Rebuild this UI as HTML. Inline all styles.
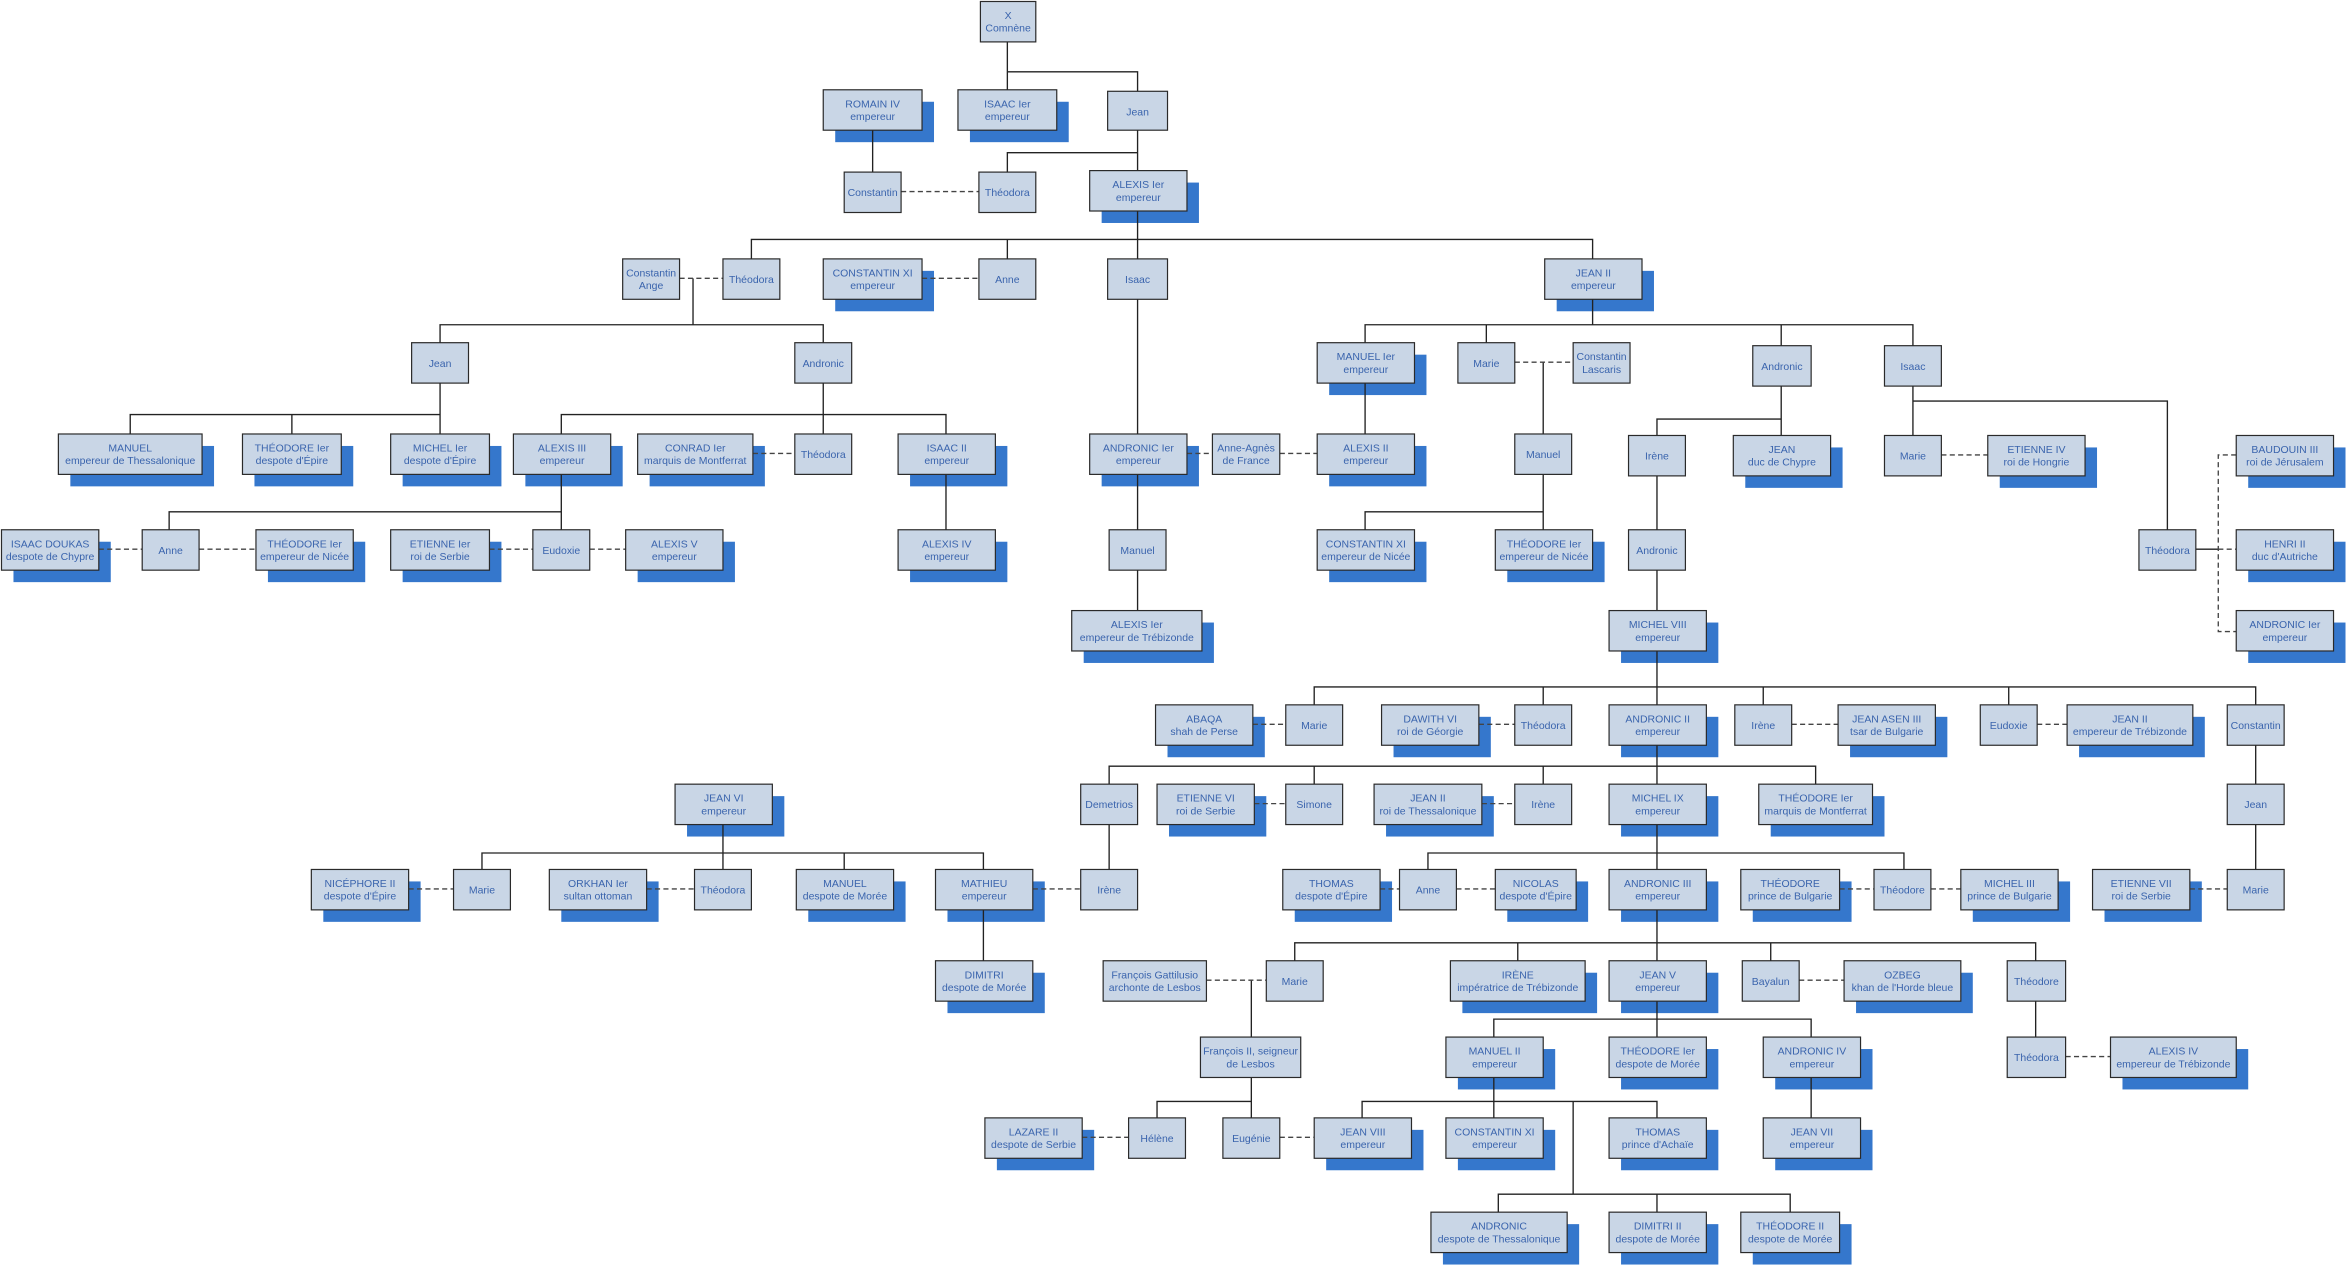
<!DOCTYPE html>
<html><head><meta charset="utf-8">
<style>
html,body{margin:0;padding:0;background:#fff;width:2347px;height:1281px;overflow:hidden}
svg{display:block}
.s rect{fill:#3577cc}
.b rect{fill:#c9d6e6;stroke:#2a2a2a;stroke-width:0.8}
.l{fill:none;stroke:#222;stroke-width:0.9}
.d{fill:none;stroke:#444;stroke-width:0.9;stroke-dasharray:3.4 2.2}
text{font-family:"Liberation Sans",Arial,sans-serif;font-size:7px;fill:#3a64ad;text-anchor:middle}
</style></head><body>
<svg width="2347" height="1281" viewBox="0 0 1568 856" preserveAspectRatio="none" xmlns="http://www.w3.org/2000/svg">
<g class="s">
<rect x="558" y="68" width="66" height="27"/><rect x="648" y="68" width="66" height="27"/><rect x="736" y="122" width="65" height="27"/>
<rect x="558" y="181" width="66" height="27"/><rect x="1040" y="181" width="65" height="27"/><rect x="888" y="237" width="65" height="27"/>
<rect x="47" y="298" width="96" height="27"/><rect x="170" y="298" width="66" height="27"/><rect x="269" y="298" width="66" height="27"/><rect x="351" y="298" width="65" height="27"/><rect x="434" y="298" width="77" height="27"/><rect x="608" y="298" width="65" height="27"/><rect x="736" y="298" width="65" height="27"/><rect x="888" y="298" width="65" height="27"/><rect x="1166" y="299" width="65" height="27"/><rect x="1336" y="299" width="65" height="27"/><rect x="1502" y="299" width="65" height="27"/>
<rect x="9" y="362" width="65" height="27"/><rect x="179" y="362" width="65" height="27"/><rect x="269" y="362" width="66" height="27"/><rect x="426" y="362" width="65" height="27"/><rect x="608" y="362" width="65" height="27"/><rect x="888" y="362" width="65" height="27"/><rect x="1007" y="362" width="65" height="27"/><rect x="1502" y="362" width="65" height="27"/>
<rect x="724" y="416" width="87" height="27"/><rect x="1083" y="416" width="65" height="27"/><rect x="1502" y="416" width="65" height="27"/>
<rect x="780" y="479" width="65" height="27"/><rect x="931" y="479" width="65" height="27"/><rect x="1083" y="479" width="65" height="27"/><rect x="1236" y="479" width="65" height="27"/><rect x="1389" y="479" width="84" height="27"/>
<rect x="459" y="532" width="65" height="27"/><rect x="781" y="532" width="65" height="27"/><rect x="926" y="532" width="72" height="27"/><rect x="1083" y="532" width="65" height="27"/><rect x="1183" y="532" width="76" height="27"/>
<rect x="216" y="589" width="65" height="27"/><rect x="375" y="589" width="65" height="27"/><rect x="540" y="589" width="65" height="27"/><rect x="633" y="589" width="65" height="27"/><rect x="865" y="589" width="65" height="27"/><rect x="1007" y="589" width="54" height="27"/><rect x="1083" y="589" width="65" height="27"/><rect x="1171" y="589" width="66" height="27"/><rect x="1318" y="589" width="65" height="27"/><rect x="1406" y="589" width="65" height="27"/>
<rect x="633" y="650" width="65" height="27"/><rect x="977" y="650" width="90" height="27"/><rect x="1083" y="650" width="65" height="27"/><rect x="1240" y="650" width="78" height="27"/>
<rect x="974" y="701" width="65" height="27"/><rect x="1083" y="701" width="65" height="27"/><rect x="1186" y="701" width="65" height="27"/><rect x="1418" y="701" width="84" height="27"/>
<rect x="666" y="755" width="65" height="27"/><rect x="886" y="755" width="65" height="27"/><rect x="974" y="755" width="65" height="27"/><rect x="1083" y="755" width="65" height="27"/><rect x="1186" y="755" width="65" height="27"/>
<rect x="964" y="818" width="91" height="27"/><rect x="1083" y="818" width="65" height="27"/><rect x="1171" y="818" width="66" height="27"/>
</g>
<path class="l" d="M673 28V48H760V61M673 48V60M583 87V115M760 87V114M673 115V102H760M760 141V160M502 173V160H1064V173M673 160V173M760 160V173M463 186V217M294 229V217H550V229M760 199V290M1064 199V217M912 229V217H1278V231M993 217V229M1190 217V231M1031 242V290M294 255V277M87 290V277H294V290M195 277V290M550 255V290M375 290V277H632V290M912 255V290M1190 257V280M1107 291V280H1190V291M1278 257V268H1448V354M1278 268V291M375 317V342M113 354V342H375V354M632 317V354M760 317V354M1031 317V342M912 354V342H1031V354M1107 317V354M760 381V408M1107 381V408M1467 367H1482M1107 435V459M878 471V459H1507V471M1031 459V471M1107 459V471M1178 459V471M1342 459V471M1107 498V512M741 524V512H1213V524M878 512V524M1031 512V524M1107 512V524M1507 498V524M483 551V570M322 581V570H657V581M483 570V581M564 570V581M741 551V581M1107 551V570M954 581V570H1272V581M1107 570V581M1507 551V581M657 608V642M1107 608V630M865 642V630H1360V642M1014 630V642M1107 630V642M1183 630V642M836 655V693M1107 669V681M998 693V681H1210V693M1107 681V693M1360 669V693M836 720V736M773 747V736H836V747M998 720V736M910 747V736H1107V747M998 736V747M1051 736V798M1001 810V798H1196V810M1107 798V810M1210 720V747"/>
<path class="d" d="M602 128H654M454 186H483M616 186H654M1012 242H1051M503 303H531M793 303H810M855 303H880M1297 304H1328M66 367H95M133 367H171M327 367H356M394 367H418M837 484H859M988 484H1012M1197 484H1228M1361 484H1381M838 537H859M990 537H1012M273 594H303M432 594H464M690 594H722M922 594H935M973 594H999M1229 594H1252M1290 594H1310M1463 594H1488M806 655H846M1202 655H1232M1380 706H1410M723 760H754M855 760H878M1494 304H1482V422H1494M1482 367H1494"/>
<g class="b">
<rect x="655" y="1" width="37" height="27"/><rect x="550" y="60" width="66" height="27"/><rect x="640" y="60" width="66" height="27"/><rect x="740" y="61" width="40" height="26"/>
<rect x="564" y="115" width="38" height="27"/><rect x="654" y="115" width="38" height="27"/><rect x="728" y="114" width="65" height="27"/>
<rect x="416" y="173" width="38" height="27"/><rect x="483" y="173" width="38" height="27"/><rect x="550" y="173" width="66" height="27"/><rect x="654" y="173" width="38" height="27"/><rect x="740" y="173" width="40" height="27"/><rect x="1032" y="173" width="65" height="27"/>
<rect x="275" y="229" width="38" height="27"/><rect x="531" y="229" width="38" height="27"/><rect x="880" y="229" width="65" height="27"/><rect x="974" y="229" width="38" height="27"/><rect x="1051" y="229" width="38" height="27"/><rect x="1171" y="231" width="39" height="27"/><rect x="1259" y="231" width="38" height="27"/>
<rect x="39" y="290" width="96" height="27"/><rect x="162" y="290" width="66" height="27"/><rect x="261" y="290" width="66" height="27"/><rect x="343" y="290" width="65" height="27"/><rect x="426" y="290" width="77" height="27"/><rect x="531" y="290" width="38" height="27"/><rect x="600" y="290" width="65" height="27"/><rect x="728" y="290" width="65" height="27"/><rect x="810" y="290" width="45" height="27"/><rect x="880" y="290" width="65" height="27"/><rect x="1012" y="290" width="38" height="27"/><rect x="1088" y="291" width="38" height="27"/><rect x="1158" y="291" width="65" height="27"/><rect x="1259" y="291" width="38" height="27"/><rect x="1328" y="291" width="65" height="27"/><rect x="1494" y="291" width="65" height="27"/>
<rect x="1" y="354" width="65" height="27"/><rect x="95" y="354" width="38" height="27"/><rect x="171" y="354" width="65" height="27"/><rect x="261" y="354" width="66" height="27"/><rect x="356" y="354" width="38" height="27"/><rect x="418" y="354" width="65" height="27"/><rect x="600" y="354" width="65" height="27"/><rect x="741" y="354" width="38" height="27"/><rect x="880" y="354" width="65" height="27"/><rect x="999" y="354" width="65" height="27"/><rect x="1088" y="354" width="38" height="27"/><rect x="1429" y="354" width="38" height="27"/><rect x="1494" y="354" width="65" height="27"/>
<rect x="716" y="408" width="87" height="27"/><rect x="1075" y="408" width="65" height="27"/><rect x="1494" y="408" width="65" height="27"/>
<rect x="772" y="471" width="65" height="27"/><rect x="859" y="471" width="38" height="27"/><rect x="923" y="471" width="65" height="27"/><rect x="1012" y="471" width="38" height="27"/><rect x="1075" y="471" width="65" height="27"/><rect x="1159" y="471" width="38" height="27"/><rect x="1228" y="471" width="65" height="27"/><rect x="1323" y="471" width="38" height="27"/><rect x="1381" y="471" width="84" height="27"/><rect x="1488" y="471" width="38" height="27"/>
<rect x="451" y="524" width="65" height="27"/><rect x="722" y="524" width="38" height="27"/><rect x="773" y="524" width="65" height="27"/><rect x="859" y="524" width="38" height="27"/><rect x="918" y="524" width="72" height="27"/><rect x="1012" y="524" width="38" height="27"/><rect x="1075" y="524" width="65" height="27"/><rect x="1175" y="524" width="76" height="27"/><rect x="1488" y="524" width="38" height="27"/>
<rect x="208" y="581" width="65" height="27"/><rect x="303" y="581" width="38" height="27"/><rect x="367" y="581" width="65" height="27"/><rect x="464" y="581" width="38" height="27"/><rect x="532" y="581" width="65" height="27"/><rect x="625" y="581" width="65" height="27"/><rect x="722" y="581" width="38" height="27"/><rect x="857" y="581" width="65" height="27"/><rect x="935" y="581" width="38" height="27"/><rect x="999" y="581" width="54" height="27"/><rect x="1075" y="581" width="65" height="27"/><rect x="1163" y="581" width="66" height="27"/><rect x="1252" y="581" width="38" height="27"/><rect x="1310" y="581" width="65" height="27"/><rect x="1398" y="581" width="65" height="27"/><rect x="1488" y="581" width="38" height="27"/>
<rect x="625" y="642" width="65" height="27"/><rect x="737" y="642" width="69" height="27"/><rect x="846" y="642" width="38" height="27"/><rect x="969" y="642" width="90" height="27"/><rect x="1075" y="642" width="65" height="27"/><rect x="1164" y="642" width="38" height="27"/><rect x="1232" y="642" width="78" height="27"/><rect x="1341" y="642" width="39" height="27"/>
<rect x="802" y="693" width="67" height="27"/><rect x="966" y="693" width="65" height="27"/><rect x="1075" y="693" width="65" height="27"/><rect x="1178" y="693" width="65" height="27"/><rect x="1341" y="693" width="39" height="27"/><rect x="1410" y="693" width="84" height="27"/>
<rect x="658" y="747" width="65" height="27"/><rect x="754" y="747" width="38" height="27"/><rect x="817" y="747" width="38" height="27"/><rect x="878" y="747" width="65" height="27"/><rect x="966" y="747" width="65" height="27"/><rect x="1075" y="747" width="65" height="27"/><rect x="1178" y="747" width="65" height="27"/>
<rect x="956" y="810" width="91" height="27"/><rect x="1075" y="810" width="65" height="27"/><rect x="1163" y="810" width="66" height="27"/>
</g>
<g>
<text x="673.5" y="12.7">X<tspan x="673.5" dy="8.5">Comnène</tspan></text>
<text x="583" y="71.7">ROMAIN IV<tspan x="583" dy="8.5">empereur</tspan></text>
<text x="673" y="71.7">ISAAC Ier<tspan x="673" dy="8.5">empereur</tspan></text>
<text x="760" y="77.1">Jean</text>
<text x="583" y="131.1">Constantin</text>
<text x="673" y="131.1">Théodora</text>
<text x="760.5" y="125.7">ALEXIS Ier<tspan x="760.5" dy="8.5">empereur</tspan></text>
<text x="435" y="184.7">Constantin<tspan x="435" dy="8.5">Ange</tspan></text>
<text x="502" y="189.1">Théodora</text>
<text x="583" y="184.7">CONSTANTIN XI<tspan x="583" dy="8.5">empereur</tspan></text>
<text x="673" y="189.1">Anne</text>
<text x="760" y="189.1">Isaac</text>
<text x="1064.5" y="184.7">JEAN II<tspan x="1064.5" dy="8.5">empereur</tspan></text>
<text x="294" y="245.1">Jean</text>
<text x="550" y="245.1">Andronic</text>
<text x="912.5" y="240.7">MANUEL Ier<tspan x="912.5" dy="8.5">empereur</tspan></text>
<text x="993" y="245.1">Marie</text>
<text x="1070" y="240.7">Constantin<tspan x="1070" dy="8.5">Lascaris</tspan></text>
<text x="1190.5" y="247.1">Andronic</text>
<text x="1278" y="247.1">Isaac</text>
<text x="87" y="301.7">MANUEL<tspan x="87" dy="8.5">empereur de Thessalonique</tspan></text>
<text x="195" y="301.7">THÉODORE Ier<tspan x="195" dy="8.5">despote d'Épire</tspan></text>
<text x="294" y="301.7">MICHEL Ier<tspan x="294" dy="8.5">despote d'Épire</tspan></text>
<text x="375.5" y="301.7">ALEXIS III<tspan x="375.5" dy="8.5">empereur</tspan></text>
<text x="464.5" y="301.7">CONRAD Ier<tspan x="464.5" dy="8.5">marquis de Montferrat</tspan></text>
<text x="550" y="306.1">Théodora</text>
<text x="632.5" y="301.7">ISAAC II<tspan x="632.5" dy="8.5">empereur</tspan></text>
<text x="760.5" y="301.7">ANDRONIC Ier<tspan x="760.5" dy="8.5">empereur</tspan></text>
<text x="832.5" y="301.7">Anne-Agnès<tspan x="832.5" dy="8.5">de France</tspan></text>
<text x="912.5" y="301.7">ALEXIS II<tspan x="912.5" dy="8.5">empereur</tspan></text>
<text x="1031" y="306.1">Manuel</text>
<text x="1107" y="307.1">Irène</text>
<text x="1190.5" y="302.7">JEAN<tspan x="1190.5" dy="8.5">duc de Chypre</tspan></text>
<text x="1278" y="307.1">Marie</text>
<text x="1360.5" y="302.7">ETIENNE IV<tspan x="1360.5" dy="8.5">roi de Hongrie</tspan></text>
<text x="1526.5" y="302.7">BAUDOUIN III<tspan x="1526.5" dy="8.5">roi de Jérusalem</tspan></text>
<text x="33.5" y="365.7">ISAAC DOUKAS<tspan x="33.5" dy="8.5">despote de Chypre</tspan></text>
<text x="114" y="370.1">Anne</text>
<text x="203.5" y="365.7">THÉODORE Ier<tspan x="203.5" dy="8.5">empereur de Nicée</tspan></text>
<text x="294" y="365.7">ETIENNE Ier<tspan x="294" dy="8.5">roi de Serbie</tspan></text>
<text x="375" y="370.1">Eudoxie</text>
<text x="450.5" y="365.7">ALEXIS V<tspan x="450.5" dy="8.5">empereur</tspan></text>
<text x="632.5" y="365.7">ALEXIS IV<tspan x="632.5" dy="8.5">empereur</tspan></text>
<text x="760" y="370.1">Manuel</text>
<text x="912.5" y="365.7">CONSTANTIN XI<tspan x="912.5" dy="8.5">empereur de Nicée</tspan></text>
<text x="1031.5" y="365.7">THÉODORE Ier<tspan x="1031.5" dy="8.5">empereur de Nicée</tspan></text>
<text x="1107" y="370.1">Andronic</text>
<text x="1448" y="370.1">Théodora</text>
<text x="1526.5" y="365.7">HENRI II<tspan x="1526.5" dy="8.5">duc d'Autriche</tspan></text>
<text x="759.5" y="419.7">ALEXIS Ier<tspan x="759.5" dy="8.5">empereur de Trébizonde</tspan></text>
<text x="1107.5" y="419.7">MICHEL VIII<tspan x="1107.5" dy="8.5">empereur</tspan></text>
<text x="1526.5" y="419.7">ANDRONIC Ier<tspan x="1526.5" dy="8.5">empereur</tspan></text>
<text x="804.5" y="482.7">ABAQA<tspan x="804.5" dy="8.5">shah de Perse</tspan></text>
<text x="878" y="487.1">Marie</text>
<text x="955.5" y="482.7">DAWITH VI<tspan x="955.5" dy="8.5">roi de Géorgie</tspan></text>
<text x="1031" y="487.1">Théodora</text>
<text x="1107.5" y="482.7">ANDRONIC II<tspan x="1107.5" dy="8.5">empereur</tspan></text>
<text x="1178" y="487.1">Irène</text>
<text x="1260.5" y="482.7">JEAN ASEN III<tspan x="1260.5" dy="8.5">tsar de Bulgarie</tspan></text>
<text x="1342" y="487.1">Eudoxie</text>
<text x="1423" y="482.7">JEAN II<tspan x="1423" dy="8.5">empereur de Trébizonde</tspan></text>
<text x="1507" y="487.1">Constantin</text>
<text x="483.5" y="535.7">JEAN VI<tspan x="483.5" dy="8.5">empereur</tspan></text>
<text x="741" y="540.1">Demetrios</text>
<text x="805.5" y="535.7">ETIENNE VI<tspan x="805.5" dy="8.5">roi de Serbie</tspan></text>
<text x="878" y="540.1">Simone</text>
<text x="954" y="535.7">JEAN II<tspan x="954" dy="8.5">roi de Thessalonique</tspan></text>
<text x="1031" y="540.1">Irène</text>
<text x="1107.5" y="535.7">MICHEL IX<tspan x="1107.5" dy="8.5">empereur</tspan></text>
<text x="1213" y="535.7">THÉODORE Ier<tspan x="1213" dy="8.5">marquis de Montferrat</tspan></text>
<text x="1507" y="540.1">Jean</text>
<text x="240.5" y="592.7">NICÉPHORE II<tspan x="240.5" dy="8.5">despote d'Épire</tspan></text>
<text x="322" y="597.1">Marie</text>
<text x="399.5" y="592.7">ORKHAN Ier<tspan x="399.5" dy="8.5">sultan ottoman</tspan></text>
<text x="483" y="597.1">Théodora</text>
<text x="564.5" y="592.7">MANUEL<tspan x="564.5" dy="8.5">despote de Morée</tspan></text>
<text x="657.5" y="592.7">MATHIEU<tspan x="657.5" dy="8.5">empereur</tspan></text>
<text x="741" y="597.1">Irène</text>
<text x="889.5" y="592.7">THOMAS<tspan x="889.5" dy="8.5">despote d'Épire</tspan></text>
<text x="954" y="597.1">Anne</text>
<text x="1026" y="592.7">NICOLAS<tspan x="1026" dy="8.5">despote d'Épire</tspan></text>
<text x="1107.5" y="592.7">ANDRONIC III<tspan x="1107.5" dy="8.5">empereur</tspan></text>
<text x="1196" y="592.7">THÉODORE<tspan x="1196" dy="8.5">prince de Bulgarie</tspan></text>
<text x="1271" y="597.1">Théodore</text>
<text x="1342.5" y="592.7">MICHEL III<tspan x="1342.5" dy="8.5">prince de Bulgarie</tspan></text>
<text x="1430.5" y="592.7">ETIENNE VII<tspan x="1430.5" dy="8.5">roi de Serbie</tspan></text>
<text x="1507" y="597.1">Marie</text>
<text x="657.5" y="653.7">DIMITRI<tspan x="657.5" dy="8.5">despote de Morée</tspan></text>
<text x="771.5" y="653.7">François Gattilusio<tspan x="771.5" dy="8.5">archonte de Lesbos</tspan></text>
<text x="865" y="658.1">Marie</text>
<text x="1014" y="653.7">IRÈNE<tspan x="1014" dy="8.5">impératrice de Trébizonde</tspan></text>
<text x="1107.5" y="653.7">JEAN V<tspan x="1107.5" dy="8.5">empereur</tspan></text>
<text x="1183" y="658.1">Bayalun</text>
<text x="1271" y="653.7">OZBEG<tspan x="1271" dy="8.5">khan de l'Horde bleue</tspan></text>
<text x="1360.5" y="658.1">Théodore</text>
<text x="835.5" y="704.7">François II, seigneur<tspan x="835.5" dy="8.5">de Lesbos</tspan></text>
<text x="998.5" y="704.7">MANUEL II<tspan x="998.5" dy="8.5">empereur</tspan></text>
<text x="1107.5" y="704.7">THÉODORE Ier<tspan x="1107.5" dy="8.5">despote de Morée</tspan></text>
<text x="1210.5" y="704.7">ANDRONIC IV<tspan x="1210.5" dy="8.5">empereur</tspan></text>
<text x="1360.5" y="709.1">Théodora</text>
<text x="1452" y="704.7">ALEXIS IV<tspan x="1452" dy="8.5">empereur de Trébizonde</tspan></text>
<text x="690.5" y="758.7">LAZARE II<tspan x="690.5" dy="8.5">despote de Serbie</tspan></text>
<text x="773" y="763.1">Hélène</text>
<text x="836" y="763.1">Eugénie</text>
<text x="910.5" y="758.7">JEAN VIII<tspan x="910.5" dy="8.5">empereur</tspan></text>
<text x="998.5" y="758.7">CONSTANTIN XI<tspan x="998.5" dy="8.5">empereur</tspan></text>
<text x="1107.5" y="758.7">THOMAS<tspan x="1107.5" dy="8.5">prince d'Achaïe</tspan></text>
<text x="1210.5" y="758.7">JEAN VII<tspan x="1210.5" dy="8.5">empereur</tspan></text>
<text x="1001.5" y="821.7">ANDRONIC<tspan x="1001.5" dy="8.5">despote de Thessalonique</tspan></text>
<text x="1107.5" y="821.7">DIMITRI II<tspan x="1107.5" dy="8.5">despote de Morée</tspan></text>
<text x="1196" y="821.7">THÉODORE II<tspan x="1196" dy="8.5">despote de Morée</tspan></text>
</g>
</svg>
</body></html>
